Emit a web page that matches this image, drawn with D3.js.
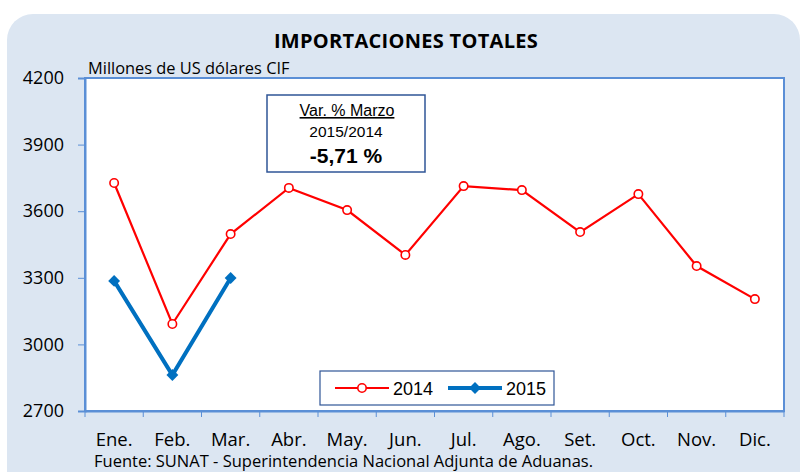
<!DOCTYPE html>
<html>
<head>
<meta charset="utf-8">
<script src="https://cdn.jsdelivr.net/npm/d3@7"></script>
<style>
  body { margin: 0; background: #fff; }
  text { font-family: "Open Sans", "DejaVu Sans", sans-serif; }
</style>
</head>
<body>
<div id="container"></div>
<script>
// data
const months = ["Ene.", "Feb.", "Mar.", "Abr.", "May.", "Jun.", "Jul.", "Ago.", "Set.", "Oct.", "Nov.", "Dic."];
const imp2014 = [3727, 3092, 3497, 3705, 3605, 3403, 3713, 3695, 3506, 3677, 3353, 3204];
const imp2015 = [3286, 2862, 3299];
const yTicks = [2700, 3000, 3300, 3600, 3900, 4200];

const W = 806, H = 472;
const margin = {top: 78, right: 22, bottom: 61, left: 85};
const boxFont = '"Liberation Sans", Arial, sans-serif';

const svg = d3.select('#container')
              .append('svg')
              .attr('width', W)
              .attr('height', H);

// panel background
svg.append('rect')
   .attr('x', 7).attr('y', 14)
   .attr('width', 793).attr('height', 500)
   .attr('rx', 26)
   .attr('fill', '#dce6f2');

// title
svg.append('text')
   .attr('x', 406).attr('y', 48)
   .attr('text-anchor', 'middle')
   .style('font-weight', 'bold')
   .style('font-size', '20px')
   .style('letter-spacing', '0.3px')
   .text('IMPORTACIONES TOTALES');

svg.append('text')
   .attr('x', 88).attr('y', 74)
   .style('font-size', '16.4px')
   .text('Millones de US dólares CIF');

// scales
const x = d3.scaleBand()
            .domain(months)
            .range([margin.left, W - margin.right])
            .padding(0);

const y = d3.scaleLinear()
            .domain([2700, 4200])
            .range([H - margin.bottom, margin.top]);

// plot area
svg.append('rect')
   .attr('x', margin.left).attr('y', margin.top)
   .attr('width', W - margin.right - margin.left)
   .attr('height', H - margin.bottom - margin.top)
   .attr('fill', '#fff')
   .attr('stroke', '#5b8fd6')
   .attr('stroke-width', 2);

// axes
const yAxis = d3.axisLeft(y).tickValues(yTicks).tickFormat(d3.format('d')).tickSize(7).tickPadding(14);
const gy = svg.append('g')
              .attr('transform', `translate(${margin.left},0)`)
              .call(yAxis);
gy.select('.domain').attr('stroke', '#5b8fd6').attr('stroke-width', 2);
gy.selectAll('.tick line').attr('stroke', '#5b8fd6');
gy.selectAll('.tick text').style('font-size', '18px').attr('fill', '#000');

const xAxis = d3.axisBottom(x).tickSize(0).tickPadding(22);
const gx = svg.append('g')
              .attr('transform', `translate(0,${H - margin.bottom})`)
              .call(xAxis);
gx.select('.domain').attr('stroke', '#5b8fd6').attr('stroke-width', 2);
gx.selectAll('.tick text').style('font-size', '18.5px').attr('fill', '#000');

// tick marks between categories
const bounds = months.map(m => x(m)).concat([x(months[11]) + x.bandwidth()]);
svg.selectAll('line.xtick')
   .data(bounds).enter()
   .append('line')
   .attr('class', 'xtick')
   .attr('x1', d => d).attr('x2', d => d)
   .attr('y1', H - margin.bottom).attr('y2', H - margin.bottom + 6)
   .attr('stroke', '#5b8fd6')
   .attr('stroke-width', 1);

const cx = (d, i) => x(months[i]) + x.bandwidth() / 2;
const line = d3.line().x(cx).y(d => y(d));

// 2014 series
svg.append('path')
   .datum(imp2014)
   .attr('d', line)
   .attr('fill', 'none')
   .attr('stroke', '#ff0000')
   .attr('stroke-width', 2.2);

svg.selectAll('circle.s2014')
   .data(imp2014).enter()
   .append('circle')
   .attr('cx', cx)
   .attr('cy', d => y(d))
   .attr('r', 4.2)
   .attr('fill', '#fff')
   .attr('stroke', '#ff0000')
   .attr('stroke-width', 1.6);

// 2015 series
svg.append('path')
   .datum(imp2015)
   .attr('d', line)
   .attr('fill', 'none')
   .attr('stroke', '#0070c0')
   .attr('stroke-width', 4);

const diamond = d3.symbol().type(d3.symbolDiamond2).size(90);
svg.selectAll('path.s2015')
   .data(imp2015).enter()
   .append('path')
   .attr('d', diamond)
   .attr('transform', (d, i) => `translate(${cx(d, i)},${y(d)})`)
   .attr('fill', '#0070c0');

// annotation box
const note = svg.append('g').attr('transform', 'translate(267,95)');
note.append('rect')
    .attr('width', 158).attr('height', 77)
    .attr('fill', '#fff')
    .attr('stroke', '#2f5597')
    .attr('stroke-width', 1.5);
note.append('text')
    .attr('x', 80).attr('y', 21)
    .attr('text-anchor', 'middle')
    .style('font-family', boxFont)
    .style('font-size', '16px')
    .style('text-decoration', 'underline')
    .text('Var. % Marzo');
note.append('text')
    .attr('x', 79).attr('y', 42)
    .attr('text-anchor', 'middle')
    .style('font-family', boxFont)
    .style('font-size', '15.5px')
    .text('2015/2014');
note.append('text')
    .attr('x', 79).attr('y', 68)
    .attr('text-anchor', 'middle')
    .style('font-family', boxFont)
    .style('font-size', '21px')
    .style('font-weight', 'bold')
    .text('-5,71 %');

// legend
const legend = svg.append('g').attr('transform', 'translate(320,371)');
legend.append('rect')
      .attr('width', 234).attr('height', 34)
      .attr('fill', '#fff')
      .attr('stroke', '#2f5597')
      .attr('stroke-width', 1.2);
legend.append('line')
      .attr('x1', 15).attr('x2', 69).attr('y1', 17).attr('y2', 17)
      .attr('stroke', '#ff0000').attr('stroke-width', 2.2);
legend.append('circle')
      .attr('cx', 42).attr('cy', 17).attr('r', 4.2)
      .attr('fill', '#fff').attr('stroke', '#ff0000').attr('stroke-width', 1.6);
legend.append('text')
      .attr('x', 73).attr('y', 24)
      .style('font-family', boxFont)
      .style('font-size', '18px')
      .text('2014');
legend.append('line')
      .attr('x1', 128).attr('x2', 182).attr('y1', 17).attr('y2', 17)
      .attr('stroke', '#0070c0').attr('stroke-width', 4);
legend.append('path')
      .attr('d', diamond)
      .attr('transform', 'translate(155,17)')
      .attr('fill', '#0070c0');
legend.append('text')
      .attr('x', 186).attr('y', 24)
      .style('font-family', boxFont)
      .style('font-size', '18px')
      .text('2015');

// source
svg.append('text')
   .attr('x', 94).attr('y', 467)
   .style('font-size', '16.5px')
   .text('Fuente: SUNAT - Superintendencia Nacional Adjunta de Aduanas.');
</script>
</body>
</html>
